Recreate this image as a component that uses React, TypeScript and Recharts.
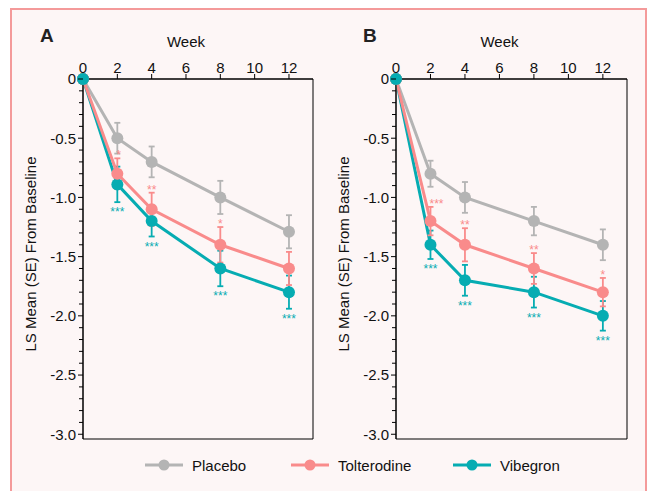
import React from 'react';
import { LineChart, Line, XAxis, YAxis, ErrorBar, ReferenceArea } from 'recharts';

// weeks on the x axis
const weeks = [0, 2, 4, 8, 12];
const xTicks = [0, 2, 4, 6, 8, 10, 12];
const yMajorTicks = [0, -0.5, -1.0, -1.5, -2.0, -2.5, -3.0];
const yAllTicks = [
  0, -0.1, -0.2, -0.3, -0.4, -0.5, -0.6, -0.7, -0.8, -0.9, -1.0,
  -1.1, -1.2, -1.3, -1.4, -1.5, -1.6, -1.7, -1.8, -1.9, -2.0,
  -2.1, -2.2, -2.3, -2.4, -2.5, -2.6, -2.7, -2.8, -2.9, -3.0,
];
const seriesNames = ['Placebo', 'Tolterodine', 'Vibegron'];

// panel A
const placeboA = [0, -0.5, -0.7, -1.0, -1.29];
const placeboSeA = [0, 0.13, 0.13, 0.14, 0.14];
const tolA = [0, -0.8, -1.1, -1.4, -1.6];
const tolSeA = [0, 0.13, 0.14, 0.15, 0.14];
const vibA = [0, -0.89, -1.2, -1.6, -1.8];
const vibSeA = [0, 0.15, 0.13, 0.15, 0.14];
const tolStarsA = ['', '*', '**', '*', ''];
const vibStarsA = ['', '***', '***', '***', '***'];

// panel B
const placeboB = [0, -0.8, -1.0, -1.2, -1.4];
const placeboSeB = [0, 0.11, 0.13, 0.12, 0.13];
const tolB = [0, -1.2, -1.4, -1.6, -1.8];
const tolSeB = [0, 0.12, 0.14, 0.13, 0.12];
const vibB = [0, -1.4, -1.7, -1.8, -2.0];
const vibSeB = [0, 0.12, 0.13, 0.13, 0.125];
const tolStarsB = ['', '***', '**', '**', '*'];
const vibStarsB = ['', '***', '***', '***', '***'];

const FONT = '"Liberation Sans", Arial, Helvetica, sans-serif';
const GRAY = '#b4b4b4';
const PINK = '#f98b8b';
const TEAL = '#06acb2';
const colors = [GRAY, PINK, TEAL];

function buildRows(p: number[], pSe: number[], t: number[], tSe: number[], v: number[], vSe: number[]) {
  return weeks.map((w, i) => ({
    week: w,
    placebo: p[i],
    placeboSe: pSe[i],
    tol: t[i],
    tolSe: tSe[i],
    tolStarY: t[i] + tSe[i],
    vib: v[i],
    vibSe: vSe[i],
    vibStarY: v[i] - vSe[i],
    vibOrigin: i === 0 ? v[i] : null,
  }));
}

const rowsA = buildRows(placeboA, placeboSeA, tolA, tolSeA, vibA, vibSeA);
const rowsB = buildRows(placeboB, placeboSeB, tolB, tolSeB, vibB, vibSeB);

const YTick = (props: any) => {
  const { x, y, payload } = props;
  const v = payload.value;
  const major = yMajorTicks.some((m) => Math.abs(m - v) < 1e-6);
  return (
    <g>
      <line x1={x - (major ? 5 : 4)} x2={x} y1={y} y2={y} stroke="#000" strokeWidth={1} />
      {major && (
        <text x={x - 7} y={y} dy="0.36em" textAnchor="end" fontSize={15} fontFamily={FONT} fill="#111">
          {v === 0 ? '0' : v.toFixed(1)}
        </text>
      )}
    </g>
  );
};

const starDot = (stars: string[], color: string, below: boolean) => (p: any) => {
  const s = stars[p.index];
  if (!s || p.cx == null || p.cy == null) return <g key={'s' + p.index} />;
  const start = !below && p.index === 1;
  return (
    <text
      key={'s' + p.index}
      x={start ? p.cx - 1 : p.cx}
      y={below ? p.cy + 14 : p.cy + 1}
      textAnchor={start ? 'start' : 'middle'}
      fontSize={12}
      fontFamily={FONT}
      fill={color}
    >
      {s}
    </text>
  );
};

const dotStyle = (c: string) => ({ r: 6, fill: c, stroke: 'none', clipDot: false });

function Panel({ rows, tolStars, vibStars, width, yWidth, right }: any) {
  return (
    <LineChart width={width} height={491} data={rows} margin={{ top: 49, right, bottom: 52, left: 0 }}>
      <XAxis
        dataKey="week"
        type="number"
        orientation="top"
        domain={[0, 13.4]}
        ticks={xTicks}
        interval={0}
        height={30}
        tickSize={5}
        tickMargin={1}
        stroke="#000"
        tick={{ fill: '#111', fontSize: 15, fontFamily: FONT }}
      />
      <YAxis
        type="number"
        domain={[-3.04, 0]}
        ticks={yAllTicks}
        interval={0}
        width={yWidth}
        tickSize={0}
        tickMargin={0}
        tickLine={false}
        axisLine={{ stroke: '#000' }}
        tick={(p: any) => <YTick {...p} />}
      />
      <ReferenceArea x1={0} x2={13.4} y1={-3.04} y2={0} fill="none" stroke="#000" strokeWidth={1} fillOpacity={0} />
      <Line dataKey="placebo" stroke={GRAY} strokeWidth={3} dot={dotStyle(GRAY)} activeDot={false} isAnimationActive={false}>
        <ErrorBar dataKey="placeboSe" width={3} stroke={GRAY} strokeWidth={1.8} direction="y" />
      </Line>
      <Line dataKey="vib" stroke={TEAL} strokeWidth={3} dot={dotStyle(TEAL)} activeDot={false} isAnimationActive={false}>
        <ErrorBar dataKey="vibSe" width={3} stroke={TEAL} strokeWidth={1.8} direction="y" />
      </Line>
      <Line dataKey="tol" stroke={PINK} strokeWidth={3} dot={dotStyle(PINK)} activeDot={false} isAnimationActive={false}>
        <ErrorBar dataKey="tolSe" width={3} stroke={PINK} strokeWidth={1.8} direction="y" />
      </Line>
      <Line dataKey="vibOrigin" stroke="none" dot={dotStyle(TEAL)} activeDot={false} isAnimationActive={false} />
      <Line dataKey="tolStarY" stroke="none" dot={starDot(tolStars, PINK, false)} activeDot={false} isAnimationActive={false} />
      <Line dataKey="vibStarY" stroke="none" dot={starDot(vibStars, TEAL, true)} activeDot={false} isAnimationActive={false} />
    </LineChart>
  );
}

const legendX = [145, 291, 453];

export default function App() {
  return (
    <div style={{ position: 'absolute', left: 0, top: 0, width: 649, height: 491, overflow: 'hidden', background: '#fff' }}>
      <div
        style={{
          position: 'absolute', left: 10, top: 8, width: 637, height: 520, boxSizing: 'border-box',
          border: '2px solid #f49a9a', background: '#fdf6f6',
        }}
      />
      <div style={{ position: 'absolute', left: 0, top: 0 }}>
        <Panel rows={rowsA} tolStars={tolStarsA} vibStars={vibStarsA} width={330} yWidth={83} right={17} />
      </div>
      <div style={{ position: 'absolute', left: 330, top: 0 }}>
        <Panel rows={rowsB} tolStars={tolStarsB} vibStars={vibStarsB} width={319} yWidth={66} right={22} />
      </div>
      <svg width={649} height={491} style={{ position: 'absolute', left: 0, top: 0, pointerEvents: 'none' }} fontFamily={FONT}>
        <text x={40} y={42} fontSize={19} fontWeight="bold" fill="#222">A</text>
        <text x={363} y={42} fontSize={19} fontWeight="bold" fill="#222">B</text>
        <text x={186} y={46.5} fontSize={15} textAnchor="middle" fill="#111">Week</text>
        <text x={499.5} y={46.5} fontSize={15} textAnchor="middle" fill="#111">Week</text>
        <text transform="translate(36,254) rotate(-90)" fontSize={15} textAnchor="middle" fill="#111">LS Mean (SE) From Baseline</text>
        <text transform="translate(348.5,254) rotate(-90)" fontSize={15} textAnchor="middle" fill="#111">LS Mean (SE) From Baseline</text>
        {seriesNames.map((name, i) => (
          <g key={name}>
            <line x1={legendX[i]} x2={legendX[i] + 38} y1={465} y2={465} stroke={colors[i]} strokeWidth={3} />
            <circle cx={legendX[i] + 19} cy={465} r={5.5} fill={colors[i]} />
            <text x={legendX[i] + 47} y={470.5} fontSize={15} fill="#111">{name}</text>
          </g>
        ))}
      </svg>
    </div>
  );
}
